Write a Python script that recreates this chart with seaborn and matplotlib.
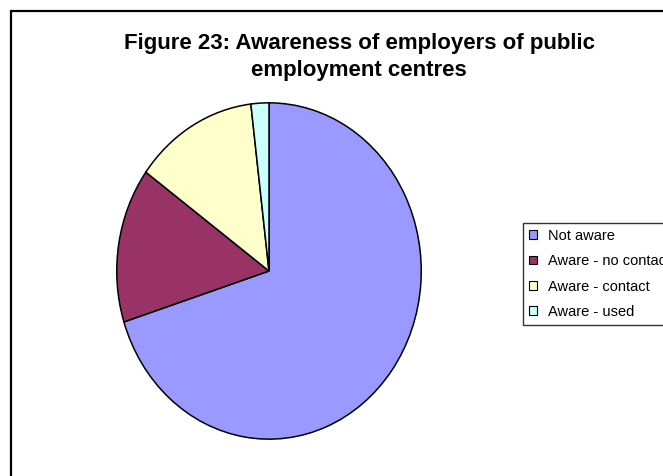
import matplotlib
matplotlib.use("Agg")
import matplotlib.pyplot as plt
from matplotlib.patches import Rectangle, Patch
import seaborn as sns

# Survey shares (%) of employers by awareness of public employment centres
categories = ["Not aware", "Aware - no contact", "Aware - contact", "Aware - used"]
shares = [70.1, 14.9, 13.1, 1.9]
colors = ["#9999FF", "#993366", "#FFFFCC", "#CCFFFF"]
title = "Figure 23: Awareness of employers of public\nemployment centres"

sns.set_theme(style="white")
plt.rcParams["font.family"] = ["Liberation Sans", "DejaVu Sans"]
plt.rcParams["text.color"] = "black"

W, H = 663, 476
fig = plt.figure(figsize=(W / 100, H / 100), dpi=100)
fig.patch.set_facecolor("white")

# Outer chart frame (open to the right and bottom)
fig.patches.append(Rectangle((11 / W, -0.2), 1.5, 1 - 11 / H + 0.2,
                             transform=fig.transFigure, fill=False,
                             edgecolor="black", linewidth=1.6, zorder=0))

# Pie area: slightly taller than wide, like the stretched plot area
cx, cy, rx, ry = 269, 271, 153, 169
ax = fig.add_axes([(cx - rx) / W, (H - cy - ry) / H, 2 * rx / W, 2 * ry / H])
ax.pie(shares, colors=colors, startangle=90, counterclock=False,
       wedgeprops=dict(edgecolor="black", linewidth=1.1))
ax.set_aspect("auto")
ax.set_xlim(-1.005, 1.005)
ax.set_ylim(-1.005, 1.005)
ax.axis("off")

fig.text(359 / W, 1 - 57 / H, title, ha="center", va="center",
         fontsize=16, fontweight="bold", linespacing=1.38, color="black")

handles = [Patch(facecolor=c, edgecolor="black", linewidth=0.8) for c in colors]
leg = fig.legend(handles, categories, loc="upper left",
                 bbox_to_anchor=(523 / W, 1 - 223 / H), frameon=True,
                 fancybox=False, fontsize=10.5, handlelength=0.55,
                 handleheight=0.55, handletextpad=0.75, labelspacing=0.78,
                 borderpad=0.4, borderaxespad=0)
leg.get_frame().set_edgecolor("black")
leg.get_frame().set_linewidth(1.0)
for t in leg.get_texts():
    t.set_color("black")

fig.savefig("out.png", dpi=100)
